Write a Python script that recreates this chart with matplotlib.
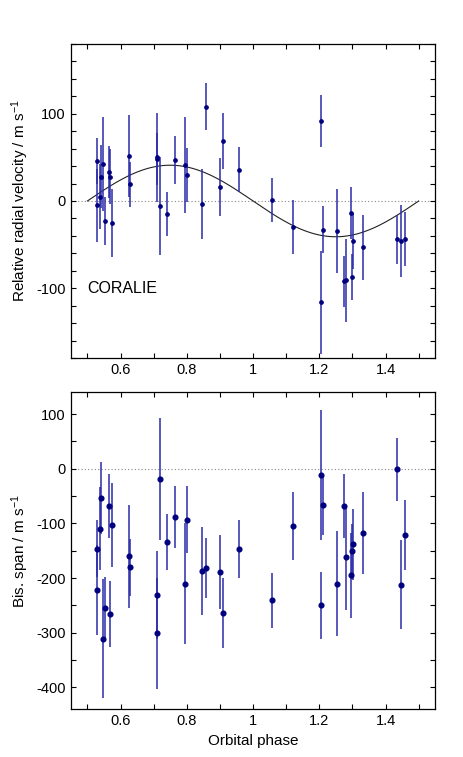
import numpy as np
import matplotlib
matplotlib.use("Agg")
import matplotlib.pyplot as plt
from matplotlib.ticker import MultipleLocator, FuncFormatter

plt.rcParams['font.family'] = ['Liberation Sans', 'DejaVu Sans']
plt.rcParams['mathtext.fontset'] = 'custom'
plt.rcParams['mathtext.rm'] = 'Liberation Sans'
plt.rcParams['mathtext.it'] = 'Liberation Sans'
plt.rcParams['axes.unicode_minus'] = False

# CORALIE data
phase = [0.528, 0.528, 0.537, 0.542, 0.547, 0.552, 0.566, 0.567, 0.573, 0.625,
         0.629, 0.709, 0.710, 0.720, 0.740, 0.764, 0.794, 0.801, 0.845, 0.859,
         0.901, 0.909, 0.958, 1.056, 1.120, 1.205, 1.206, 1.212, 1.254, 1.276,
         1.282, 1.296, 1.299, 1.302, 1.332, 1.435, 1.447, 1.458]
rv = [46, -5, 5, 28, 42, -23, 33, 28, -25, 52,
      19, 50, 48, -6, -15, 47, 41, 30, -3, 108,
      16, 69, 36, 1, -30, 92, -116, -33, -34, -92,
      -91, -14, -87, -46, -53, -44, -46, -44]
rv_err = [26, 42, 37, 36, 54, 28, 30, 32, 39, 47,
          26, 51, 30, 56, 25, 28, 55, 31, 40, 27,
          33, 32, 26, 25, 31, 30, 59, 27, 48, 29,
          48, 30, 26, 32, 37, 28, 41, 31]
bis = [-146, -222, -110, -54, -311, -255, -68, -266, -103, -160,
       -180, -231, -301, -19, -134, -88, -210, -93, -187, -182,
       -189, -263, -146, -241, -105, -250, -11, -66, -210, -68,
       -162, -195, -151, -138, -117, -1, -212, -121]
bis_err = [52, 83, 76, 66, 109, 57, 58, 60, 77, 94,
           52, 81, 102, 112, 51, 57, 110, 61, 81, 55,
           67, 64, 53, 51, 62, 61, 119, 55, 96, 59,
           96, 78, 50, 65, 75, 58, 82, 64]

# circular orbit model
K = 41.0
model_phase = np.linspace(0.5, 1.5, 400)
model_rv = -K * np.sin(2 * np.pi * model_phase)

fig = plt.figure(figsize=(4.63, 7.57), dpi=100)
ax1 = fig.add_axes([0.153, 0.527, 0.787, 0.415])
ax2 = fig.add_axes([0.153, 0.063, 0.787, 0.419])

fmt = FuncFormatter(lambda v, p: '%g' % v)

for ax in (ax1, ax2):
    ax.axhline(0, color='#888888', lw=0.8, ls=(0, (1, 2)), zorder=1)
    ax.set_xlim(0.45, 1.55)
    ax.xaxis.set_major_locator(MultipleLocator(0.2))
    ax.xaxis.set_minor_locator(MultipleLocator(0.1))
    ax.xaxis.set_major_formatter(fmt)
    ax.tick_params(which='both', direction='in', top=True, right=True,
                   length=3.5, width=0.8, labelsize=10.5)
    for s in ax.spines.values():
        s.set_linewidth(0.9)

ax1.plot(model_phase, model_rv, color='#222222', lw=0.8, zorder=2)
ax1.errorbar(phase, rv, yerr=rv_err, fmt='o', ms=2.4, color='#00007f',
             ecolor='#2b2ba8', elinewidth=1.1, capsize=0, zorder=3)
ax1.set_ylim(-180, 180)
ax1.yaxis.set_major_locator(MultipleLocator(100))
ax1.yaxis.set_minor_locator(MultipleLocator(20))
ax1.set_ylabel('Relative radial velocity / m s$^{-1}$', fontsize=11)
ax1.text(0.5, -100, 'CORALIE', fontsize=11.5, va='center', ha='left')

ax2.errorbar(phase, bis, yerr=bis_err, fmt='o', ms=3.4, color='#00007f',
             ecolor='#2b2ba8', elinewidth=1.1, capsize=0, zorder=3)
ax2.set_ylim(-440, 140)
ax2.yaxis.set_major_locator(MultipleLocator(100))
ax2.yaxis.set_minor_locator(MultipleLocator(50))
ax2.set_ylabel('Bis. span / m s$^{-1}$', fontsize=11)
ax2.set_xlabel('Orbital phase', fontsize=11)

fig.savefig('out.png', dpi=100)
